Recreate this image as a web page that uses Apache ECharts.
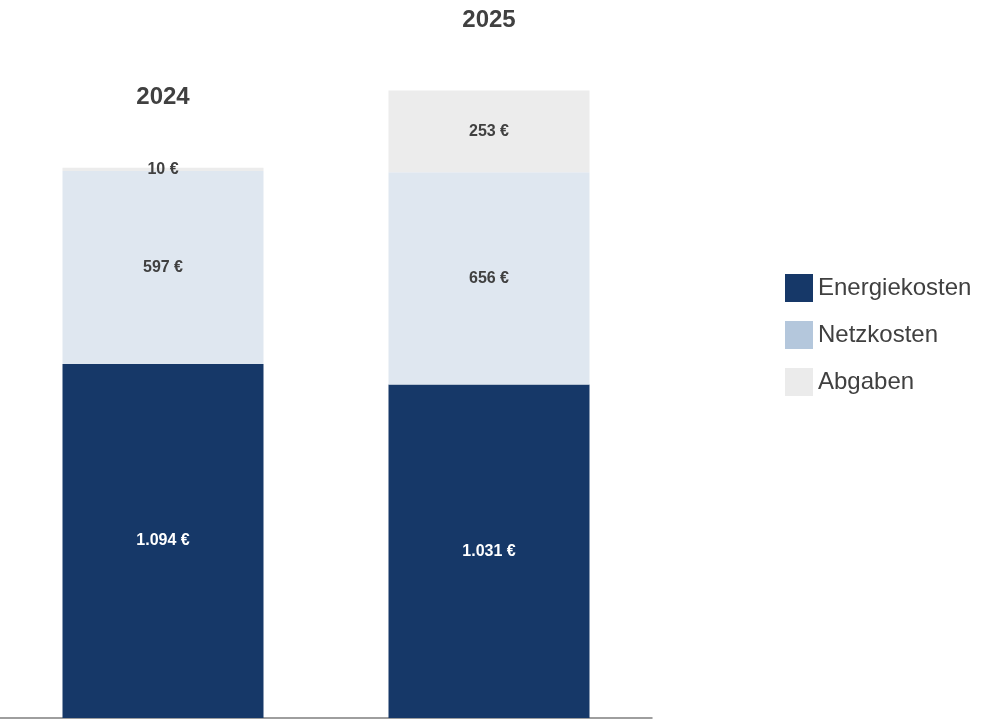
<!DOCTYPE html>
<html>
<head>
<meta charset="utf-8">
<script src="https://cdn.jsdelivr.net/npm/echarts@6/dist/echarts.min.js"></script>
<style>html,body{margin:0;padding:0;background:#fff}#chart{width:1000px;height:723px}</style>
</head>
<body>
<div id="chart"></div>
<script>
const years = ['2024', '2025'];
const energie = [1094, 1031];
const netz = [597, 656];
const abgaben = [10, 253];

const font = 'Liberation Sans, Arial, sans-serif';
const fmt = v => v.toLocaleString('de-DE') + ' €';

function seg(name, data, legendColor, barColor, labelColor) {
    return {
        name: name,
        type: 'bar',
        stack: 'total',
        barWidth: 201,
        color: legendColor,
        data: data.map(v => ({ value: v, itemStyle: { color: barColor } })),
        label: {
            show: true,
            position: 'inside',
            formatter: p => fmt(p.value),
            color: labelColor,
            fontFamily: font,
            fontWeight: 'bold',
            fontSize: 16
        }
    };
}

const chart = echarts.init(document.getElementById('chart'));
chart.setOption({
    animation: false,
    grid: { left: -2, right: 348, top: 71, bottom: 5 },
    legend: {
        data: ['Energiekosten', 'Netzkosten', 'Abgaben'],
        orient: 'vertical',
        left: 780,
        top: 269,
        itemWidth: 28,
        itemHeight: 28,
        itemGap: 19,
        icon: 'rect',
        textStyle: { fontFamily: font, fontSize: 24, color: '#404040' }
    },
    xAxis: {
        type: 'category',
        data: years,
        axisLine: { lineStyle: { color: '#7f7f7f', width: 1.5 } },
        axisTick: { show: false },
        axisLabel: { show: false }
    },
    yAxis: { type: 'value', min: 0, max: 2000, show: false },
    series: [
        seg('Energiekosten', energie, '#163868', '#163868', '#ffffff'),
        seg('Netzkosten', netz, '#b4c7dc', '#dfe7f0', '#404040'),
        seg('Abgaben', abgaben, '#ebebeb', '#ececec', '#404040'),
        {
            name: 'Jahr',
            type: 'bar',
            stack: 'total',
            barWidth: 201,
            data: years.map(() => 0),
            itemStyle: { color: 'transparent' },
            label: {
                show: true,
                position: 'top',
                distance: 58,
                formatter: p => p.name,
                color: '#404040',
                fontFamily: font,
                fontWeight: 'bold',
                fontSize: 24
            }
        }
    ]
});
</script>
</body>
</html>
